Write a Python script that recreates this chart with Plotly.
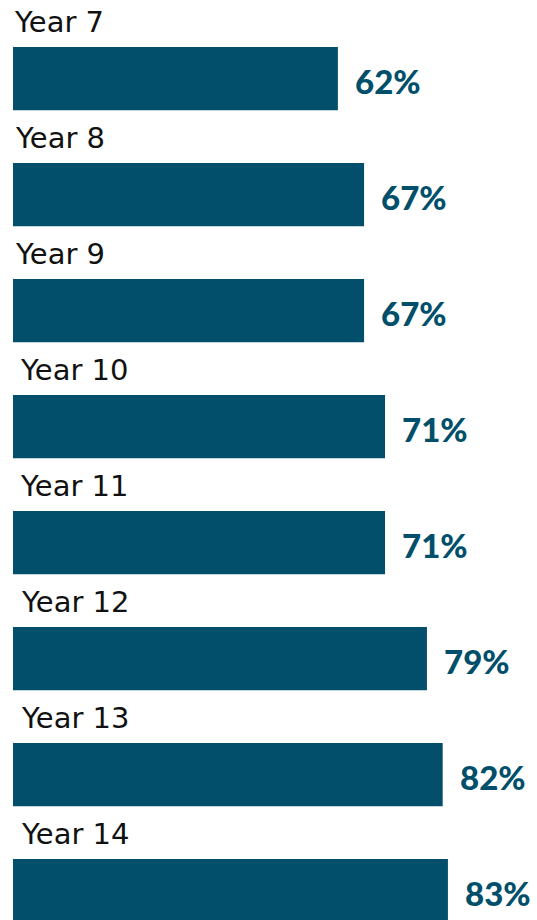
import plotly.graph_objects as go

years = ["Year 7", "Year 8", "Year 9", "Year 10", "Year 11", "Year 12", "Year 13", "Year 14"]
percent = [62, 67, 67, 71, 71, 79, 82, 83]

BAR = "#014f6a"
pos = list(range(len(years)))

fig = go.Figure(go.Bar(
    x=percent, y=pos, orientation="h",
    marker=dict(color=BAR, line=dict(width=0)),
    width=0.545, hoverinfo="skip",
))

# two-digit year labels sit slightly indented
label_shift = [0, 1, 1, 6, 6, 7, 7, 7]

annotations = []
for i, (name, v) in enumerate(zip(years, percent)):
    annotations.append(dict(
        x=0, y=i - 0.485, xref="x", yref="y", text=name, showarrow=False,
        xanchor="left", yanchor="middle", xshift=-1 + label_shift[i],
        font=dict(family="DejaVu Sans", size=29, color="#111111"),
    ))
    annotations.append(dict(
        x=v, y=i + 0.02, xref="x", yref="y", text=f"{v}%", showarrow=False,
        xanchor="left", yanchor="middle", xshift=15,
        font=dict(family="Lato", size=33, color=BAR, weight=900),
    ))

fig.update_layout(
    width=537, height=920,
    margin=dict(l=13, r=0, t=0, b=0),
    paper_bgcolor="white", plot_bgcolor="white",
    showlegend=False,
    xaxis=dict(range=[0, 100], visible=False, fixedrange=True),
    yaxis=dict(range=[7.254, -0.677], visible=False, fixedrange=True),
    annotations=annotations,
)

fig.write_html("out.html", config=dict(displayModeBar=False))
